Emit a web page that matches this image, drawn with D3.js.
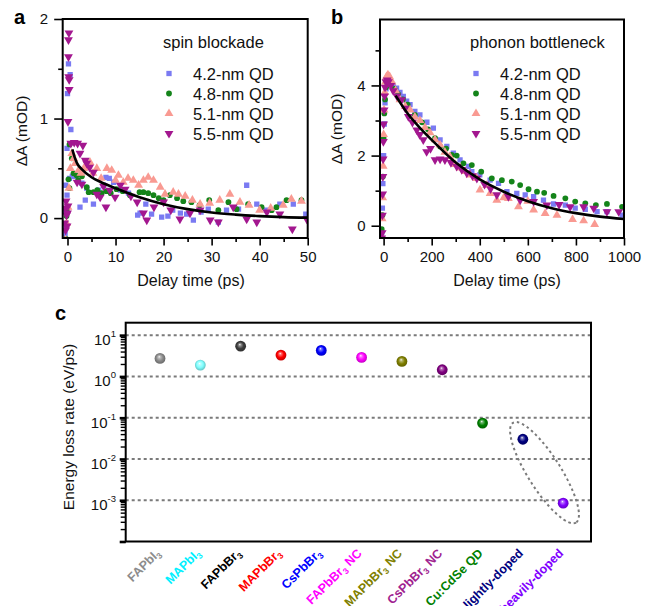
<!DOCTYPE html>
<html><head><meta charset="utf-8">
<script src="https://cdn.jsdelivr.net/npm/d3@7"></script>
<style>
body{margin:0;background:#fff;}
svg{display:block;font-family:"Liberation Sans",Arial,Helvetica,sans-serif;}
</style></head><body>
<svg id="chart" width="645" height="606"></svg>
<script>
// ---------------- DATA ----------------
const seriesNames = ["4.2-nm QD", "4.8-nm QD", "5.1-nm QD", "5.5-nm QD"];
const seriesColors = ["#7a7af2", "#14841a", "#f99a92", "#a3178f"];

// Panel a: spin blockade  [delay (ps), ΔA (mOD)]
const a42 = [[-0.5,-0.16],[-0.4,-0.1],[-0.5,0.07],[-0.1,0.23],[-0.4,0.33],[-0.1,0.70],[0.7,0.89],[0,1.25],[0.55,1.44],[0.2,1.55],[0.4,0.4],[1.0,0.42],[1.8,0.42],[2.6,0.11],[3.0,0.35],[3.7,0.18],[4.0,0.30],[5.4,0.14],[6.5,0.28],[7.5,0.33],[8.0,0.41],[8.7,0.40],[9.6,0.36],[11,0.28],[12.7,0.25],[14.6,0.03],[15.1,0.05],[16.3,0.14],[17.5,0.04],[19.6,0.01],[20.9,0.02],[21.9,0.08],[23.5,0.05],[24.8,0.04],[26.2,-0.02],[27.8,0.06],[29.3,0.09],[31.4,-0.04],[33.1,0.08],[35.6,0.09],[37.3,0.33],[39.4,0.14],[41.4,0.08],[44.2,0.14],[47,0.14],[49.6,0.04]];
const a48 = [[-0.3,-0.21],[-0.2,0.02],[0,0.1],[0.2,0.39],[0.4,0.3],[0.42,0.74],[0.9,0.6],[1.25,0.45],[1.9,0.43],[2.2,0.38],[3,0.42],[4.0,0.31],[4.4,0.26],[5.4,0.26],[6.2,0.28],[7.1,0.25],[8.1,0.27],[9,0.25],[10.2,0.29],[11.5,0.27],[13,0.23],[15,0.26],[15.8,0.26],[16.8,0.25],[17.9,0.23],[19,0.2],[20,0.18],[21.3,0.23],[22.8,0.2],[24.1,0.17],[25.8,0.16],[27.5,0.13],[29.5,0.18],[31.4,0.08],[33.5,0.16],[35.2,0.09],[37.6,0.14],[40.4,0.11],[42.5,0.08],[43.5,0.11],[45.6,0.18],[48.7,0.18]];
const a51 = [[-0.4,-0.22],[-0.2,-0.05],[0.1,0.11],[0.3,0.3],[0.6,0.5],[0.9,0.65],[1.3,0.6],[1.6,0.55],[2.3,0.48],[2.8,0.45],[3.4,0.5],[4,0.51],[4.7,0.56],[5.3,0.45],[6.1,0.5],[7.0,0.4],[8.2,0.5],[9.2,0.48],[10.0,0.38],[10.6,0.43],[11.6,0.36],[12.6,0.4],[13.7,0.38],[14.8,0.33],[15.8,0.38],[16.8,0.41],[17.9,0.38],[19.3,0.31],[20.3,0.24],[22,0.26],[23.1,0.24],[24.5,0.22],[26,0.18],[27.6,0.14],[29.6,0.15],[31.7,0.18],[33.8,0.24],[35.9,0.16],[37.8,0.13],[40,0.08],[42.3,0.1],[44.9,0.13],[46.6,0.19],[48.7,0.17]];
const a55 = [[-0.6,-0.05],[-0.5,0.1],[-0.4,-0.12],[-0.3,0.17],[-0.2,0.03],[-0.1,-0.08],[0,0.05],[0.1,0.12],[0.3,1.86],[0.2,1.79],[0.2,1.62],[0.25,1.42],[0.35,1.39],[0.35,1.29],[0.1,0.97],[0.7,0.75],[1.4,0.76],[2.1,0.75],[3.2,0.73],[2.6,0.65],[3.7,0.58],[4,0.55],[4.6,0.51],[5.4,0.46],[2,0.36],[3,0.34],[6.1,0.24],[6.8,0.21],[7.5,0.32],[8,0.11],[8.8,0.28],[9.9,0.21],[11,0.33],[12,0.29],[13.2,0.22],[14.5,0.16],[15.8,0.05],[16.5,-0.02],[18,0.11],[20,0.16],[21.5,0.08],[23.4,-0.01],[25.5,0.05],[27.6,0.08],[29.7,-0.02],[31.4,-0.04],[34.5,0.11],[37.3,-0.01],[39.4,-0.04],[41.5,0.06],[44.2,0.04],[46.8,-0.11],[49.8,-0.01]];
const fitA = [[1,0.69],[1.5,0.61],[2,0.55],[3,0.49],[5,0.41],[7,0.36],[10,0.30],[15,0.21],[20,0.14],[25,0.09],[30,0.056],[35,0.035],[40,0.02],[45,0.01],[50,0.005]];

// Panel b: phonon bottleneck
const b42 = [[-8,-0.2],[-5,0.5],[-3,1.2],[0,2.0],[3,2.9],[6,3.5],[10,3.9],[15,4.05],[20,4.1],[30,4.05],[40,4.0],[54,3.92],[68,3.8],[82,3.69],[96,3.55],[110,3.45],[130,3.26],[151,3.16],[180,2.95],[207,2.78],[235,2.45],[263,2.26],[290,2.07],[318,1.88],[353,1.69],[367,1.54],[400,1.45],[443,1.30],[478,1.21],[513,0.97],[554,0.92],[589,0.88],[624,0.83],[665,0.73],[707,0.62],[756,0.59],[797,0.5],[839,0.47],[888,0.4],[929,0.4],[992,0.3]];
const b48 = [[-8,-0.1],[-5,0.3],[-3,1.4],[0,2.5],[3,3.2],[6,3.6],[10,3.95],[15,4.1],[20,4.15],[30,4.05],[45,3.9],[60,3.75],[80,3.6],[100,3.45],[130,3.16],[160,2.95],[185,2.75],[214,2.5],[235,2.26],[260,2.2],[283,2.02],[304,2.0],[332,1.78],[367,1.73],[406,1.54],[450,1.35],[492,1.3],[533,1.26],[568,1.16],[603,1.04],[638,0.97],[668,0.94],[707,0.85],[756,0.78],[797,0.69],[839,0.64],[883,0.59],[929,0.62],[992,0.54]];
const b51 = [[-10,-0.3],[-6,0.2],[-4,0.8],[-2,1.7],[0,2.6],[2,3.3],[5,3.8],[8,4.1],[12,4.25],[18,4.3],[25,4.25],[35,4.1],[50,3.85],[68,3.59],[90,3.4],[110,3.3],[130,3.1],[151,3.0],[172,2.8],[193,2.65],[214,2.45],[235,2.3],[255,2.1],[276,1.97],[297,1.75],[318,1.65],[340,1.55],[360,1.45],[388,1.35],[401,1.02],[429,1.15],[443,0.92],[471,0.73],[500,0.8],[519,0.78],[561,0.54],[600,0.7],[624,0.45],[672,0.35],[721,0.3],[786,0.18],[832,0.14],[878,0.04]];
const b55 = [[-8,-0.35],[-6,-0.2],[-5,0.3],[-4,0.9],[-3,1.4],[-2,1.9],[-1,2.4],[0,2.9],[2,3.3],[4,3.7],[6,3.95],[10,4.1],[15,4.15],[20,4.1],[30,4.0],[40,3.85],[55,3.7],[75,3.59],[90,3.35],[103,3.11],[120,2.95],[138,2.73],[150,2.6],[165,2.45],[179,2.11],[195,2.2],[214,1.88],[235,1.9],[255,1.88],[280,1.8],[304,1.69],[325,1.6],[346,1.5],[370,1.42],[388,1.35],[420,1.18],[445,1.05],[471,0.88],[519,0.83],[568,0.73],[624,0.69],[679,0.59],[730,0.6],[776,0.54],[832,0.54],[874,0.5],[929,0.4],[978,0.4]];
const fitB = [[50,3.71],[100,3.2],[150,2.8],[200,2.45],[300,1.8],[400,1.32],[500,0.97],[600,0.7],[700,0.5],[800,0.36],[900,0.26],[1000,0.19]];

const ticksA_x = [0,10,20,30,40,50], minorA_x = [5,15,25,35,45];
const ticksA_y = [0,1,2], minorA_y = [0.5,1.5];
const ticksB_x = [0,200,400,600,800,1000], minorB_x = [100,300,500,700,900];
const ticksB_y = [0,2,4], minorB_y = [1,3,5];

// Panel c: energy loss rate (eV/ps)
const categories = ["FAPbI3","MAPbI3","FAPbBr3","MAPbBr3","CsPbBr3","FAPbBr3 NC","MAPbBr3 NC","CsPbBr3 NC","Cu:CdSe QD","lightly-doped","heavily-doped"];
const lossRates = [2.73, 1.88, 5.4, 3.28, 4.27, 2.89, 2.31, 1.45, 0.074, 0.030, 0.00085];
const ballColors = ["#8a8a8a","#80ffff","#3c3c3c","#ff0000","#0000ff","#ff00ff","#808000","#800080","#008000","#000080","#8000ff"];
const labelColors = ["#8c8c8c","#00f0ff","#000000","#ff0000","#0000ff","#ff00ff","#808000","#a0228f","#008000","#000080","#8000ff"];
const decades = [1e-3,1e-2,1e-1,1e0,1e1];
const decadeExp = ["-3","-2","-1","0","1"];

// ---------------- DRAW ----------------
const svg = d3.select("#chart");
const defs = svg.append("defs");
const FONT = 15;

function decayPanel(o){
  const x = d3.scaleLinear().domain(o.xd).range([o.L,o.R]);
  const y = d3.scaleLinear().domain(o.yd).range([o.B,o.T]);
  const g = svg.append("g");
  const cid = "clip"+o.id;
  defs.append("clipPath").attr("id",cid).append("rect")
    .attr("x",o.L).attr("y",o.T).attr("width",o.R-o.L).attr("height",o.B-o.T);

  g.append("g").attr("transform",`translate(0,${o.B})`)
    .call(d3.axisBottom(x).tickValues(o.tx).tickSize(7.5).tickPadding(6).tickFormat(d3.format("d")));
  g.append("g").attr("transform",`translate(0,${o.B})`)
    .call(d3.axisBottom(x).tickValues(o.mx).tickSize(4).tickFormat(""));
  g.append("g").attr("transform",`translate(${o.L},0)`)
    .call(d3.axisLeft(y).tickValues(o.ty).tickSize(8.5).tickPadding(6).tickFormat(d3.format("d")));
  g.append("g").attr("transform",`translate(${o.L},0)`)
    .call(d3.axisLeft(y).tickValues(o.my).tickSize(4.5).tickFormat(""));
  g.selectAll(".domain").remove();
  g.selectAll(".tick line").attr("stroke","#000").attr("stroke-width",1.6);
  g.selectAll(".tick text").attr("font-size",FONT).attr("fill","#111")
    .attr("font-family","'Liberation Sans',Arial,sans-serif");

  const symbols = [d3.symbolSquare, d3.symbolCircle, d3.symbolTriangle, d3.symbolTriangle];
  const sizes = [28, 26, 34, 34];
  const dg = g.append("g").attr("clip-path",`url(#${cid})`);
  o.data.forEach((ser,i)=>{
    dg.append("g").selectAll("path").data(ser).join("path")
      .attr("d", d3.symbol().type(symbols[i]).size(sizes[i]))
      .attr("transform", d=>`translate(${x(d[0])},${y(d[1])})${i===3?" rotate(180)":""}`)
      .attr("fill", seriesColors[i]);
  });
  dg.append("path").datum(o.fit)
    .attr("d", d3.line().x(d=>x(d[0])).y(d=>y(d[1])).curve(d3.curveMonotoneX))
    .attr("fill","none").attr("stroke","#000").attr("stroke-width",2.6);

  g.append("rect").attr("x",o.L).attr("y",o.T).attr("width",o.R-o.L).attr("height",o.B-o.T)
    .attr("fill","none").attr("stroke","#000").attr("stroke-width",2);

  g.append("text").attr("x",o.legX).attr("y",47.5).attr("font-size",16.5).attr("fill","#111").text(o.title);
  seriesNames.forEach((n,i)=>{
    const yy = 80 + i*20;
    g.append("path").attr("d", d3.symbol().type(symbols[i]).size(sizes[i])())
      .attr("transform", `translate(${o.legX+6},${yy-6.5})${i===3?" rotate(180)":""}`)
      .attr("fill", seriesColors[i]);
    g.append("text").attr("x",o.legX+30).attr("y",yy).attr("font-size",16.5).attr("fill","#111").text(n);
  });

  g.append("text").attr("x",o.xtX).attr("y",286).attr("text-anchor","middle").attr("font-size",16).attr("fill","#111").text("Delay time (ps)");
  g.append("text").attr("transform",`translate(${o.ytX},${o.ytY}) rotate(-90)`).attr("text-anchor","middle")
    .attr("font-size",15.5).attr("fill","#111").text("ΔA (mOD)");
  g.append("text").attr("x",o.lblX).attr("y",24).attr("font-size",20).attr("font-weight","bold").text(o.label);
}

decayPanel({id:"a", L:62.7, R:307.7, T:19, B:238, xd:[-1,50], yd:[-0.2,2],
  tx:ticksA_x, mx:minorA_x, ty:ticksA_y, my:minorA_y,
  data:[a42,a48,a51,a55], fit:fitA, title:"spin blockade", legX:163,
  xtX:191, ytX:27, ytY:131, label:"a", lblX:14});
decayPanel({id:"b", L:380, R:624, T:19.5, B:238, xd:[-15,1000], yd:[-0.35,5.88],
  tx:ticksB_x, mx:minorB_x, ty:ticksB_y, my:minorB_y,
  data:[b42,b48,b51,b55], fit:fitB, title:"phonon bottleneck", legX:470,
  xtX:507, ytX:342, ytY:129, label:"b", lblX:331});

// ---- panel c ----
(function(){
  const L=125.7, R=591, T=322.7, B=541.5;
  const x = d3.scaleLinear().domain([-0.851, 10.69]).range([L,R]);
  const y = d3.scaleLog().domain([1e-4, 20]).range([B,T]);
  const g = svg.append("g");

  g.selectAll("line.grid").data(decades).join("line").attr("class","grid")
    .attr("x1",L).attr("x2",R).attr("y1",d=>y(d)).attr("y2",d=>y(d))
    .attr("stroke","#7a7a7a").attr("stroke-width",2).attr("stroke-dasharray","3,3");

  const minor = y.ticks().filter(v=>!decades.includes(v) && v<20);
  g.append("g").attr("transform",`translate(${L},0)`)
    .call(d3.axisLeft(y).tickValues(minor).tickSize(5).tickFormat(""))
    .call(s=>s.selectAll("line").attr("stroke-width",1.4));
  g.append("g").attr("transform",`translate(${L},0)`)
    .call(d3.axisLeft(y).tickValues(decades.concat([1e-4])).tickSize(6).tickFormat(""))
    .call(s=>s.selectAll("line").attr("stroke-width",2.6));
  g.selectAll(".domain").remove();

  const tl = g.selectAll("text.yl").data(decades).join("text").attr("class","yl")
    .attr("x",116).attr("y",d=>y(d)+10).attr("text-anchor","end")
    .attr("font-size",15).attr("fill","#111");
  tl.append("tspan").text("10");
  tl.append("tspan").attr("dy",-8).attr("font-size",9.5).text((d,i)=>decadeExp[i]);

  const p1=[x(9),y(lossRates[9])], p2=[x(10),y(lossRates[10])];
  const cx=(p1[0]+p2[0])/2+1.5, cy=(p1[1]+p2[1])/2+1.5;
  const ang=Math.atan2(p2[1]-p1[1],p2[0]-p1[0])*180/Math.PI;
  g.append("ellipse").attr("cx",0).attr("cy",0).attr("rx",59).attr("ry",16.5)
    .attr("transform",`translate(${cx},${cy}) rotate(${ang})`)
    .attr("fill","none").attr("stroke","#7a7a7a").attr("stroke-width",2).attr("stroke-dasharray","2.5,3");

  ballColors.forEach((c,i)=>{
    const gr = defs.append("radialGradient").attr("id","ball"+i)
      .attr("cx","50%").attr("cy","50%").attr("r","55%").attr("fx","42%").attr("fy","34%");
    const base = d3.color(c);
    gr.append("stop").attr("offset","0%").attr("stop-color","#ffffff");
    gr.append("stop").attr("offset","18%").attr("stop-color", d3.interpolateRgb(c,"#ffffff")(0.45));
    gr.append("stop").attr("offset","55%").attr("stop-color", c);
    gr.append("stop").attr("offset","100%").attr("stop-color", base.darker(0.9).formatHex());
  });
  g.selectAll("circle.ball").data(lossRates).join("circle").attr("class","ball")
    .attr("cx",(d,i)=>x(i)).attr("cy",d=>y(d)).attr("r",5.4)
    .attr("fill",(d,i)=>`url(#ball${i})`);

  g.append("rect").attr("x",L).attr("y",T).attr("width",R-L).attr("height",B-T)
    .attr("fill","none").attr("stroke","#000").attr("stroke-width",2);

  categories.forEach((c,i)=>{
    const t = g.append("text").attr("transform",`translate(${x(i)+1},${554}) rotate(-45)`)
      .attr("text-anchor","end").attr("font-size",12.5).attr("font-weight","bold")
      .attr("fill",labelColors[i]);
    const parts = c.split(/(3)/).filter(s=>s.length);
    let sub=false;
    parts.forEach(p=>{
      if(p==="3"){
        t.append("tspan").attr("dy",3).attr("font-size",8.5).text("3");
        sub=true;
      } else {
        const ts=t.append("tspan").text(p);
        if(sub){ts.attr("dy",-3); sub=false;}
      }
    });
  });

  g.append("text").attr("transform",`translate(74,${427}) rotate(-90)`).attr("text-anchor","middle")
    .attr("font-size",15.5).attr("fill","#111").text("Energy loss rate (eV/ps)");
  g.append("text").attr("x",55).attr("y",320).attr("font-size",20).attr("font-weight","bold").text("c");
})();
</script>
</body></html>
